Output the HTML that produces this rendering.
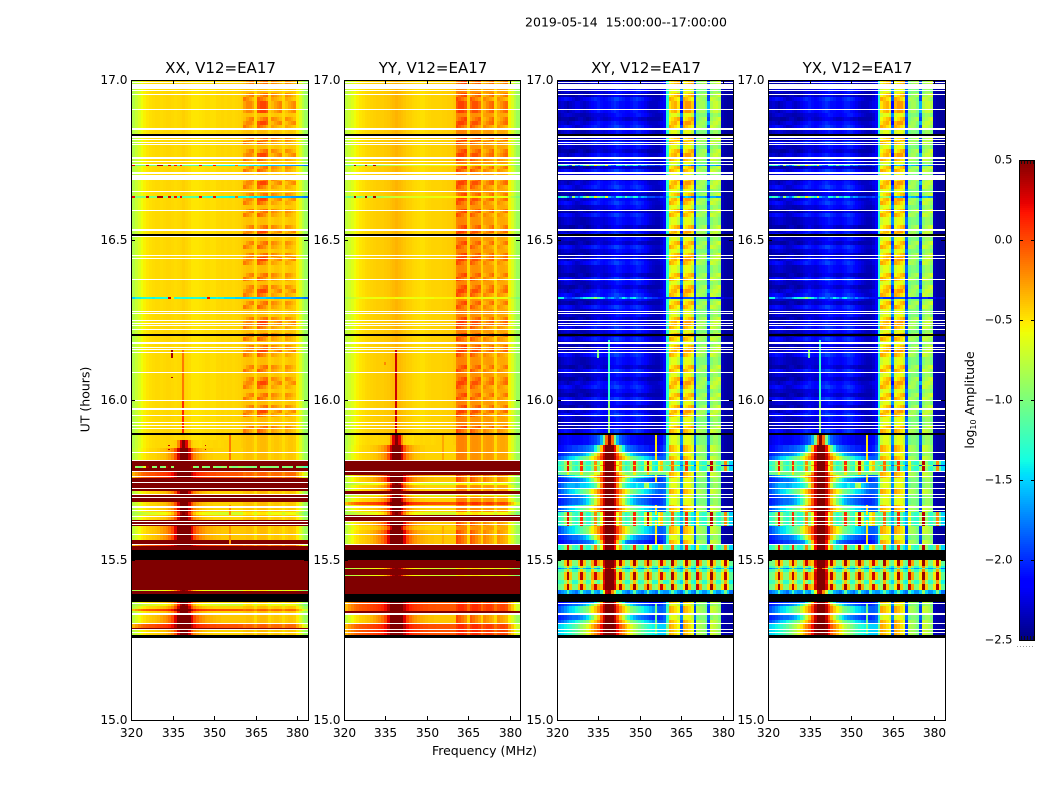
<!DOCTYPE html>
<html lang="en">
<head>
<meta charset="utf-8">
<title>V12=EA17 amplitude spectrogram</title>
<style>
html,body{margin:0;padding:0;background:#fff;}
svg{display:block;font-family:"DejaVu Sans","Liberation Sans",sans-serif;fill:#000;}
</style>
</head>
<body>
<svg id="chart" xmlns="http://www.w3.org/2000/svg" width="1050" height="800" viewBox="0 0 1050 800">
  <text x="626" y="26.5" font-size="12.5" text-anchor="middle" xml:space="preserve">2019-05-14  15:00:00--17:00:00</text>
  <text x="484.5" y="755" font-size="12.5" text-anchor="middle">Frequency (MHz)</text>
  <text x="0" y="0" font-size="12.5" text-anchor="middle" transform="translate(89.5,399.5) rotate(-90)">UT (hours)</text>
  <text x="0" y="0" font-size="12.5" text-anchor="middle" transform="translate(974,400) rotate(-90)">log<tspan font-size="8" dy="2">10</tspan><tspan dy="-2"> Amplitude</tspan></text>
</svg>
<script>
/* ---------- chart data ---------- */
const xTickValues = [320, 335, 350, 365, 380];
const yTickValues = [15, 15.5, 16, 16.5, 17];
const colorbarTicks = [-2.5, -2, -1.5, -1, -0.5, 0, 0.5];
const panelTitles = ["XX, V12=EA17", "YY, V12=EA17", "XY, V12=EA17", "YX, V12=EA17"];

/* log10 amplitude per 1 MHz channel: channels 320-360 ("Left") and 361-383 ("Band") */
const xxLeft = [-.85,-.8,-.72,-.65,-.58,-.54,-.5,-.48,-.47,-.46,-.46,-.47,-.46,-.45,-.45,-.46,-.47,-.46,-.45,-.43,-.45,-.47,-.5,-.5,-.5,-.49,-.48,-.47,-.47,-.48,-.48,-.46,-.46,-.45,-.46,-.45,-.45,-.46,-.45,-.44,-.42];
const yyLeft = [-.8,-.75,-.7,-.64,-.58,-.54,-.5,-.48,-.46,-.45,-.44,-.43,-.42,-.42,-.42,-.41,-.4,-.38,-.36,-.34,-.36,-.38,-.4,-.42,-.43,-.45,-.46,-.47,-.48,-.48,-.46,-.45,-.44,-.44,-.44,-.44,-.43,-.43,-.42,-.42,-.4];
const xxBand0 = [-.4,-.38,-.38,-.4,-.47,-.38,-.36,-.36,-.38,-.46,-.42,-.4,-.4,-.42,-.47,-.42,-.4,-.4,-.42,-.52,-.65,-.78,-.88];
const xxBand1 = [-.15,-.22,-.3,-.38,-.46,-.08,-.15,-.22,-.32,-.44,-.28,-.32,-.36,-.4,-.46,-.3,-.34,-.38,-.42,-.52,-.65,-.78,-.88];
const xxBand2 = [-.38,-.28,-.2,-.16,-.46,-.32,-.22,-.14,-.1,-.44,-.2,-.24,-.3,-.36,-.46,-.22,-.26,-.32,-.38,-.52,-.65,-.78,-.88];
const xxBand3 = [-.28,-.2,-.2,-.28,-.45,-.04,.02,.02,-.06,-.42,-.36,-.28,-.22,-.18,-.45,-.38,-.3,-.24,-.2,-.52,-.65,-.78,-.88];
const yyBand0 = [-.2,-.18,-.18,-.2,-.46,-.25,-.23,-.23,-.25,-.44,-.28,-.26,-.26,-.28,-.46,-.32,-.3,-.3,-.32,-.55,-.66,-.78,-.88];
const yyBand1 = [0,-.06,-.14,-.22,-.44,-.05,-.12,-.2,-.28,-.44,-.2,-.25,-.3,-.35,-.46,-.24,-.28,-.32,-.36,-.55,-.66,-.78,-.88];
const yyBand2 = [-.2,-.12,-.04,.02,-.44,-.28,-.2,-.12,-.06,-.44,-.35,-.28,-.18,-.1,-.44,-.36,-.28,-.2,-.14,-.55,-.66,-.78,-.88];
const yyBand3 = [-.05,.03,.03,-.05,-.42,-.12,-.02,-.02,-.12,-.42,-.3,-.2,-.12,-.08,-.44,-.3,-.22,-.14,-.1,-.55,-.66,-.78,-.88];
const hotBand = [-.12,-.08,-.08,-.12,-.2,-.1,-.06,-.06,-.1,-.2,-.12,-.1,-.1,-.12,-.22,-.12,-.1,-.1,-.12,-.28,-.42,-.55,-.7];
const yyHotBand = [.05,.1,.1,.05,-.1,.05,.1,.1,.05,-.1,0,.05,.05,0,-.12,-.02,.02,.02,-.02,-.25,-.4,-.55,-.7];
const yellowBand = [-.55,-.5,-.5,-.55,-.65,-.55,-.5,-.5,-.55,-.65,-.6,-.58,-.58,-.6,-.68,-.6,-.58,-.58,-.6,-.7,-.8,-.9,-1];

const peakNarrowLeft = [-.85,-.8,-.72,-.65,-.58,-.54,-.5,-.48,-.47,-.46,-.46,-.46,-.46,-.45,-.45,-.44,-.42,-.2,.25,.5,.25,-.2,-.42,-.46,-.47,-.48,-.46,-.46,-.45,-.46,-.45,-.45,-.46,-.45,-.44,-.44,-.44,-.44,-.44,-.44,-.42];
const peakMediumLeft = [-.85,-.78,-.7,-.62,-.56,-.52,-.48,-.46,-.45,-.44,-.42,-.4,-.38,-.34,-.28,-.2,-.02,.3,.5,.5,.5,.3,-.02,-.2,-.28,-.34,-.38,-.4,-.42,-.42,-.44,-.44,-.44,-.44,-.44,-.44,-.44,-.44,-.44,-.44,-.44];
const peakWideLeft = [-.85,-.75,-.65,-.58,-.52,-.48,-.44,-.42,-.4,-.38,-.35,-.3,-.25,-.2,-.12,0,.25,.5,.5,.5,.5,.5,.25,0,-.12,-.2,-.25,-.3,-.32,-.34,-.36,-.38,-.38,-.4,-.4,-.4,-.4,-.4,-.4,-.4,-.4];
const hotLeft = [-.45,-.35,-.25,-.18,-.12,-.08,-.05,-.03,-.02,0,.02,.04,.06,.08,.12,.2,.35,.5,.5,.5,.5,.5,.35,.2,.12,.08,.06,.04,.02,0,0,-.02,-.02,-.02,-.03,-.03,-.03,-.03,-.03,-.05,-.05];
const yellowLeft = [-.9,-.85,-.8,-.78,-.75,-.72,-.7,-.68,-.66,-.64,-.62,-.6,-.58,-.55,-.5,-.4,-.2,.1,.4,.5,.4,.1,-.2,-.4,-.5,-.55,-.58,-.6,-.62,-.64,-.66,-.66,-.68,-.68,-.68,-.7,-.7,-.7,-.7,-.7,-.7];
const saturatedRow = [.5,.5,.5,.5,.5,.5,.5,.5,.5,.5,.5,.5,.5,.5,.5,.5,.5,.5,.5,.5,.5,.5,.5,.5,.5,.5,.5,.5,.5,.5,.5,.5,.5,.5,.5,.5,.5,.5,.5,.5,.5,.5,.5,.5,.5,.5,.5,.5,.5,.5,.5,.5,.5,.5,.5,.5,.5,.5,.5,.5,.5,.5,.5,.5];
const mixedLeft = [-.9,.5,-.9,-1,-.9,-.6,.4,.5,-.9,-1,.5,-1,-.9,.4,.5,-.9,.5,.5,.5,.5,.5,.5,.4,-.9,-1,.5,-.9,-1,-1,.5,-.9,-1,-1,-.9,-.9,.4,-.9,-1,-1,-.9,-.9];
const mixedBand = [-.95,-1,-1,-.95,-1,.5,-.95,-.95,-1,-1,-.95,-.95,-1,.5,-1,-.95,-1,-1,.5,-.95,-1,-1.1,-1.2];
const rfiCyanLeft = [-1.6,-1.5,-1.4,-1.4,-1.35,-1.35,-1.3,-1.35,-1.4,-1.35,-1.35,-1.35,-1.3,-1.35,.3,-.5,-1.35,-1.3,-1.3,-1.35,-1.35,-1.3,-1.35,-1.3,-1.3,-1.35,-1.4,-1.35,.2,-1.4,-1.4,-1.35,-1.4,-1.4,-1.45,-1.45,-1.45,-1.45,-1.5,-1.5,-1.5];
const rfiCyanBand = [-1.5,-1.5,-1.45,-1.5,-1.5,-1.5,-1.5,-1.5,-1.55,-1.55,-1.55,-1.6,-1.6,-1.6,-1.6,-1.6,-1.6,-1.65,-1.65,-1.7,-1.7,-1.75,-1.8];
const rfiGreenLeft = [.4,.2,-1,-1,-1,-1,.3,-1,-1,-1,.4,.4,-1,-1,.3,-1,.2,-1.2,.2,-1.1,-1.1,-1.1,-1.1,-1.1,-1.2,.2,-1.2,-1.2,-1.3,-1.3,.2,-1.3,-1.3,-1.35,-1.35,-1.35,-1.4,-1.4,-.1,-1.4,-1.4];
const rfiGreenBand = [-1.4,-1.2,-1.4,-1.4,-1.5,-1.4,-1.45,-1.45,-1.5,-1.55,-1.55,-1.55,-1.55,-1.55,-1.6,-1.6,-1.6,-1.65,-1.65,-1.7,-1.7,-1.75,-1.8];
const yySoftRfiLeft = [-.9,-.85,-.8,-.75,-.7,-.66,-.62,-.6,-.58,-.6,-.6,-.58,-.58,-.58,-.6,-.58,-.56,-.55,-.55,-.58,-.6,-.6,-.58,-.58,-.58,-.58,-.6,-.58,-.58,-.58,-.58,-.58,-.58,-.55,-.55,-.55,-.55,-.55,-.55,-.55,-.5];
const yyGreenRfiLeft = [.3,-1,-1.05,-1,.4,-1,-1,-.9,.4,-.95,-.95,.4,-.9,-.9,-.85,-.8,-.8,-.75,-.75,-.7,-.7,-.7,-.68,-.68,-.66,-.66,-.66,-.64,-.64,-.64,-.62,-.62,-.62,-.6,-.6,-.6,-.6,-.58,-.58,-.56,-.56];

const crossLeft0 = [-2.42,-2.38,-2.32,-2.28,-2.25,-2.28,-2.32,-2.35,-2.35,-2.38,-2.38,-2.35,-2.32,-2.28,-2.25,-2.25,-2.25,-2.28,-2.25,-2.2,-2.15,-2.1,-2.05,-2.08,-2.12,-2.18,-2.2,-2.15,-2.1,-2.05,-2.05,-2.1,-2.15,-2.22,-2.28,-2.32,-2.35,-2.35,-2.3,-2.15,-1.3];
const crossLeft1 = [-2.3,-2.22,-2.12,-2.08,-2.1,-2.15,-2.25,-2.32,-2.3,-2.25,-2.2,-2.15,-2.1,-2.05,-2,-2.05,-2.1,-2.15,-2.1,-2.05,-2,-1.92,-1.92,-2,-2.05,-2.1,-2.1,-2.05,-2,-1.95,-2,-2.05,-2.12,-2.2,-2.25,-2.3,-2.32,-2.32,-2.25,-2.12,-1.3];
const crossLeft2 = [-2.45,-2.42,-2.38,-2.38,-2.38,-2.42,-2.42,-2.38,-2.32,-2.32,-2.38,-2.42,-2.38,-2.32,-2.28,-2.22,-2.28,-2.32,-2.32,-2.28,-2.22,-2.18,-2.18,-2.22,-2.28,-2.32,-2.32,-2.28,-2.22,-2.22,-2.28,-2.32,-2.32,-2.38,-2.38,-2.38,-2.38,-2.38,-2.32,-2.15,-1.3];
const crossLeft3 = [-2.38,-2.32,-2.28,-2.32,-2.38,-2.32,-2.28,-2.22,-2.22,-2.28,-2.32,-2.28,-2.22,-2.15,-2.1,-2.05,-2.1,-2.15,-2.15,-2.1,-2.05,-2,-2.05,-2.1,-2.1,-2.15,-2.15,-2.1,-2.05,-2.05,-2.1,-2.15,-2.22,-2.28,-2.32,-2.32,-2.32,-2.28,-2.22,-2.12,-1.3];
const crossBand0 = [-.72,-.62,-.62,-.75,-1.7,-.68,-.6,-.6,-.75,-1.8,-1.05,-.98,-.98,-1.05,-1.85,-.98,-.88,-.88,-1,-2.35,-2.4,-2.42,-2.42];
const crossBand1 = [-.3,-.38,-.48,-.58,-1.85,-.3,-.38,-.48,-.6,-1.95,-.8,-.85,-.9,-1,-1.95,-.7,-.75,-.82,-.9,-2.35,-2.4,-2.42,-2.42];
const crossBand2 = [-.58,-.48,-.38,-.3,-1.95,-.6,-.48,-.38,-.3,-1.95,-1,-.9,-.85,-.8,-1.95,-.9,-.82,-.75,-.68,-2.35,-2.4,-2.42,-2.42];
const crossBand3 = [-.5,-.38,-.32,-.5,-2.1,-.35,-.25,-.25,-.42,-2,-.92,-.85,-.85,-.98,-1.6,-.82,-.72,-.7,-.8,-2.35,-2.4,-2.42,-2.42];
const crossRfiLeft4 = [-1.2,-1.4,-1.4,-1.9,-2,-2,-1.9,-1.8,-1.8,-1.6,-1.4,-1.3,-1.3,-1.2,-.9,-1.2,-1.4,-1.6,-1.9,-1.7,-1.6,-1.8,-1.9,-1.7,-1.4,-1.6,-1.8,-1.5,-1.4,-1.7,-1.8,-1.9,-1.7,-1.9,-1.9,-2,-2,-2.1,-2.1,-2.1,-2];
const crossRfiBand4 = [-1.9,-2,-2,-2,-2.1,-1.9,-1.9,-1.9,-1.9,-2.1,-1.9,-2,-2,-2,-2.1,-2,-2,-2.1,-2.1,-2.2,-2.3,-2.3,-2.3];
const crossRfiLeft5 = [-1.6,-1.4,-1.2,-1.3,-1.6,-1.9,-.9,-1.6,-1.8,-1.5,-1.1,-.8,-1.2,-1.3,-.5,-1,-1.2,-1.4,-.6,-1.6,-1.8,-1.9,-1.3,-1.4,-1.6,-1.1,-1.5,-1.6,-1.3,-1.4,-1.8,-1.6,-1.7,-1.9,-1.9,-1.9,-2,-2,-1.9,-2,-1.5];
const crossRfiBand5 = [-.9,-.8,-.9,-1.2,-2.1,-1.6,-1.5,-1.6,-1.8,-2.1,-1.5,-1.6,-1.6,-1.7,-2.1,-1.6,-1.6,-1.7,-1.7,-2.3,-2.4,-2.4,-2.4];
const crossPeak1 = [-2.3,-2.25,-2.2,-2.15,-2.1,-2.15,-2.2,-2.2,-2.2,-2.15,-2.1,-2.1,-2.05,-2,-1.95,-1.85,-1.6,-1,-.1,.5,-.1,-1,-1.6,-1.85,-1.95,-2,-2.05,-2.1,-2.1,-2.15,-2.2,-2.2,-2.25,-2.25,-2.25,-2.25,-2.25,-2.2,-2.15,-2,-1.3];
const crossPeak2 = [-2.2,-2.15,-2.1,-2.05,-2,-2,-1.95,-1.95,-1.9,-1.9,-1.85,-1.8,-1.75,-1.7,-1.4,-1,-.4,.2,.5,.5,.5,.2,-.4,-1,-1.4,-1.7,-1.8,-1.85,-1.9,-1.95,-2,-2,-2.05,-2.05,-2.1,-2.1,-2.1,-2.1,-2.05,-1.9,-1.3];
const crossPeak3 = [-2.1,-2.05,-2,-1.95,-1.9,-1.85,-1.8,-1.8,-1.75,-1.7,-1.6,-1.45,-1.25,-1,-.7,-.4,-.05,.3,.5,.5,.5,.3,-.05,-.4,-.7,-1,-1.25,-1.45,-1.6,-1.7,-1.75,-1.8,-1.85,-1.9,-1.95,-2,-2,-2,-1.95,-1.85,-1.3];
const crossPeak4 = [-2,-1.9,-1.8,-1.7,-1.6,-1.5,-1.45,-1.35,-1.25,-1.15,-1.05,-.95,-.75,-.55,-.4,-.2,.05,.35,.5,.5,.5,.35,.05,-.2,-.4,-.55,-.75,-.95,-1.05,-1.15,-1.25,-1.35,-1.45,-1.5,-1.6,-1.7,-1.8,-1.85,-1.85,-1.8,-1.2];
const crossPeak5 = [-1.6,-1.5,-1.45,-1.4,-1.35,-1.3,-1.2,-1.1,-1,-.9,-.8,-.65,-.5,-.35,-.2,-.05,.2,.45,.5,.5,.5,.45,.2,-.05,-.2,-.35,-.5,-.65,-.8,-.9,-1,-1.1,-1.2,-1.3,-1.35,-1.4,-1.45,-1.5,-1.5,-1.5,-1];
const crossGreenLeft = [-1.2,-1.1,-1.05,-1,-.6,-1,-1,-1,-1,-.5,-1,-1,-.95,-.9,-.6,-.7,-.2,.3,.5,.5,.5,.3,-.2,-.5,-.8,-.95,-1,-.95,-.5,-.95,-1,-1,-.95,-.4,-.95,-1,-1,-.9,-1,-1,-.8];
const crossBlueLeft = [-2,-1.9,-1.8,-1.7,-1.6,-1.6,-1.6,-1.65,-1.6,-1.5,-1.5,-1.45,-1.4,-1.3,-1.1,-.7,-.2,.3,.5,.5,.5,.3,-.2,-.7,-1.1,-1.3,-1.4,-1.45,-1.5,-1.4,-1.5,-1.5,-.9,-.8,-1.5,-1.6,-1.7,-1.8,-1.8,-1.8,-1.3];
const crossChecker1 = [-1.1,-1.05,-1,-.4,.4,-.4,-1,-1,-.4,.35,-.4,-1,-.9,-.3,.3,-.3,-.4,.3,.5,.5,.5,.3,-.4,.35,-.4,-1,-1,-.4,.4,-.4,-1,-1,-.3,.4,-.3,-1,-.9,-.4,.3,-.4,-1,-.9,.4,-.4,-1,-1.1,-.5,.4,-.4,-1,-1.1,.3,-.3,-1,-1,-.5,.45,-.4,-1,-1,-.5,.35,-.5,-1.1];
const crossChecker2 = [-1.3,-1.25,-1.2,-.9,-.4,-.9,-1.3,-1.3,-.9,-.45,-.9,-1.25,-1.2,-.45,-.9,-1.2,-.8,.2,.5,.5,.5,.2,-.8,-.45,-1,-1.3,-1.3,-.9,-.4,-.9,-1.3,-1.25,-.85,-.4,-.85,-1.3,-1.3,-.45,-.9,-1.3,-1.3,-1,-.35,-1,-1.3,-1.5,-.9,-.3,-.9,-1.3,-1.4,-.4,-1,-1.3,-1.3,-.9,-.2,-.9,-1.3,-1.3,-.9,-.3,-.9,-1.4];
const crossChecker3 = [-1.9,-1.8,-1.7,-1.6,-1.2,-1.6,-1.7,-1.8,-1.6,-1.2,-1.6,-1.7,-1.7,-1.2,-1.6,-1.7,-1.3,-.6,.3,.4,-.2,-.7,-1.3,-1.2,-1.6,-1.7,-1.8,-1.6,-1.1,-1.6,-1.7,-1.8,-1.6,-1.1,-1.6,-1.7,-1.8,-1.2,-1.6,-1.7,-1.7,-1.5,-1.1,-1.5,-1.7,-1.8,-1.5,-1.1,-1.5,-1.7,-1.8,-1.2,-1.5,-1.7,-1.7,-1.5,-.9,-1.5,-1.7,-1.7,-1.5,-1,-1.5,-1.8];
const crossBusy = [-1.5,-1.3,-1.2,-.9,.2,-.9,-1.2,-1.3,-1.1,.1,-1.1,-1.3,-1.3,-1,-.2,-1,-.6,.2,.5,.5,.5,.2,-.6,-.3,-1.1,-1.3,-1.2,-1,.1,-1,-1.2,-1.3,-.7,.3,-.7,-1.3,-1.4,-.6,-.4,-1.1,-1.2,-1.1,-.1,-1.1,-1.3,-1.6,-1.1,.1,-1.1,-1.4,-1.6,-.6,-1.2,-1.3,-1.3,-.9,.35,-.9,-1.2,-1.3,-1.1,-.2,-1.1,-1.5];

/* row kinds: one spectrum per kind */
const xxSpectra = [
  [...xxLeft, ...xxBand0], [...xxLeft, ...xxBand1], [...xxLeft, ...xxBand2], [...xxLeft, ...xxBand3],
  [...rfiCyanLeft, ...rfiCyanBand], [...rfiGreenLeft, ...rfiGreenBand],
  [...peakNarrowLeft, ...xxBand0], [...peakMediumLeft, ...xxBand0], [...peakWideLeft, ...xxBand0],
  saturatedRow, [...hotLeft, ...hotBand], [...yellowLeft, ...yellowBand], [...mixedLeft, ...mixedBand]
];
const yySpectra = [
  [...yyLeft, ...yyBand0], [...yyLeft, ...yyBand1], [...yyLeft, ...yyBand2], [...yyLeft, ...yyBand3],
  [...yySoftRfiLeft, ...yellowBand], [...yyGreenRfiLeft, ...yellowBand],
  [...peakNarrowLeft, ...yyBand0], [...peakMediumLeft, ...yyBand0], [...peakWideLeft, ...yyBand1],
  saturatedRow, [...hotLeft, ...yyHotBand], [...yellowLeft, ...yellowBand]
];
const crossSpectra = [
  [...crossLeft0, ...crossBand0], [...crossLeft1, ...crossBand1], [...crossLeft2, ...crossBand2], [...crossLeft3, ...crossBand3],
  [...crossRfiLeft4, ...crossRfiBand4], [...crossRfiLeft5, ...crossRfiBand5],
  [...crossPeak1, ...crossBand0], [...crossPeak2, ...crossBand1], [...crossPeak3, ...crossBand0], [...crossPeak4, ...crossBand1], [...crossPeak5, ...crossBand1],
  crossChecker1, crossChecker2, crossChecker3, crossBusy,
  [...crossGreenLeft, ...crossBand1], [...crossBlueLeft, ...crossBand0]
];

/* time samples are integrations since 15:00 UT; each row run starts at one of these */
const integrationSeconds = 11.25;
const runStart = [
  85,90,92,96,100,104,106,109,111,114,116,
  126,129,130,132,136,140,144,145,148,151,152,154,157,
  170,174,176,180,184,186,190,194,198,200,203,205,208,210,212,215,218,221,224,226,229,232,235,237,240,242,245,249,252,254,255,259,260,264,268,272,275,280,
  287,291,295,299,303,307,311,315,319,323,327,331,335,339,343,347,351,355,359,363,367,371,375,379,383,387,391,395,399,403,407,411,415,419,
  421,423,427,431,435,439,443,447,451,455,459,463,467,471,475,479,483,487,491,495,499,503,507,511,515,519,
  522,524,527,531,535,539,543,547,551,554,556,559,563,567,571,575,579,583,587,591,595,599,603,607,611,615,619,623,627,631,635,639
];
const quietKinds = [
  1,2,0,0,1,3,2,0,1,2,0,1,3,2,0,1,2,0,0,1,3,2,0,1,2,0,1,3,2,0,0,1,2,0,
  4,
  1,3,2,0,1,2,0,0,1,3,2,0,1,2,0,1,3,2,0,0,1,2,0,1,3,
  5,
  2,0,1,3,2,0,1,2,
  5,
  0,1,3,2,0,1,2,0,0,1,3,2,0,3,3,3,1,2,0,1,2,0
];
const xxKinds = [
  7,9,10,8,8,8,7,10,7,11,7,
  9,11,9,9,9,9,9,9,9,9,9,9,9,
  9,10,9,8,8,8,8,9,9,7,7,11,7,7,7,7,9,9,9,7,9,9,9,9,9,10,10,9,12,9,9,9,7,7,7,6,6,0,
  ...quietKinds
];
const yyKinds = [
  10,10,10,8,8,8,9,10,10,10,10,
  9,9,9,9,9,9,11,9,9,11,9,9,9,
  9,9,8,8,8,8,7,8,9,9,9,11,7,7,7,10,7,7,11,9,7,7,11,8,8,8,9,9,9,9,9,10,7,7,7,7,6,6,
  ...quietKinds
];
const crossKinds = [
  10,10,10,9,8,8,9,9,9,8,7,
  13,13,11,11,12,11,11,11,12,13,12,11,11,
  14,14,7,8,8,9,9,14,14,14,14,14,9,9,9,8,8,8,8,9,9,16,16,8,8,9,15,14,14,15,14,9,9,8,7,7,6,6,
  ...quietKinds
];

/* isolated features: first integration, end integration, channel, log10 amplitude */
const xxFeatures = [[287,320,19,.1],[320,370,19,-.15],[362,370,15,.4],[342,343,15,.4],[260,287,36,-.15],[205,215,36,-.2],[176,194,36,-.25],[274,275,14,.3],[274,275,27,.3],[270,271,14,.3],[270,271,27,.3]];
const yyFeatures = [[287,370,19,.3],[355,358,15,-.2],[260,287,36,-.3],[176,194,36,-.32]];
const crossFeatures = [[320,380,19,-1.3],[287,320,19,-.95],[362,370,15,-1],[260,287,36,-.5],[238,245,36,-.5],[205,215,36,-.5],[176,200,36,-.5],[86,116,36,-1]];

/* rows flagged as no data (white) and zero-amplitude rows (black) */
const flaggedRows = [[87,88],[90,91],[96,97],[105,107],[116,117],[175,176],[185,186],[195,196],[198,199],[203,204],[209,210],[212,214],[222,223],[225,226],[231,232],[237,238],[243,244],[248,249],[259,260],[267,268],[291,292],[294,295],[297,298],[304,305],[310,312],[319,320],[347,348],[367,368],[370,371],[372,373],[376,378],[390,391],[394,395],[396,397],[399,400],[406,407],[408,409],[440,441],[461,462],[464,465],[483,484],[489,491],[509,510],[528,529],[540,545],[546,548],[555,556],[558,559],[561,563],[575,576],[577,578],[580,581],[582,584],[590,592],[610,611],[625,626],[629,630],[631,636],[637,638]];
const blackRows = [[82,85],[118,126],[160,170],[285,287],[384,386],[484,486],[584,586]];

/* ---------- layout and scales ---------- */
const NS = 'http://www.w3.org/2000/svg';
const svg = document.getElementById('chart');
const firstChannelMHz = 320, channelMHz = 1, lastMHz = 383.8;
const plotTop = 80, plotBottom = 720, utMin = 15, utMax = 17;
const cmapMin = -2.5, cmapMax = 0.5;
const cbar = {left: 1019, right: 1035, top: 160, bottom: 640};
const panels = [
  {key: 'xx', left: 131, right: 308, spectra: xxSpectra, kinds: xxKinds, features: xxFeatures},
  {key: 'yy', left: 344, right: 520, spectra: yySpectra, kinds: yyKinds, features: yyFeatures},
  {key: 'xy', left: 557, right: 733, spectra: crossSpectra, kinds: crossKinds, features: crossFeatures},
  {key: 'yx', left: 768, right: 945, spectra: crossSpectra, kinds: crossKinds, features: crossFeatures}
];

function xScale(panel, mhz) {
  return panel.left + (mhz - firstChannelMHz) / (lastMHz - firstChannelMHz) * (panel.right - panel.left);
}
function yScale(ut) {
  return plotBottom - (ut - utMin) / (utMax - utMin) * (plotBottom - plotTop);
}
function utOfIntegration(n) {
  return utMin + n * integrationSeconds / 3600;
}
function rowY(n) {
  return Math.round(yScale(utOfIntegration(Math.min(n, 640))));
}
function channelEdges(panel, ch) {
  const mhz = firstChannelMHz + ch * channelMHz;
  const a = Math.round(xScale(panel, Math.max(mhz - channelMHz / 2, firstChannelMHz)));
  const b = ch >= 63 ? panel.right : Math.round(xScale(panel, mhz + channelMHz / 2));
  return [a, b];
}
function ramp(t, pts) {
  for (let i = 1; i < pts.length; i++) {
    if (t <= pts[i][0]) {
      const p = pts[i - 1], q = pts[i];
      return p[1] + (t - p[0]) / (q[0] - p[0]) * (q[1] - p[1]);
    }
  }
  return pts[pts.length - 1][1];
}
function jet(t) {
  t = Math.max(0, Math.min(1, t));
  const r = ramp(t, [[0, 0], [.35, 0], [.66, 1], [.89, 1], [1, .5]]);
  const g = ramp(t, [[0, 0], [.125, 0], [.375, 1], [.64, 1], [.91, 0], [1, 0]]);
  const b = ramp(t, [[0, .5], [.11, 1], [.34, 1], [.65, 0], [1, 0]]);
  return 'rgb(' + Math.round(r * 255) + ',' + Math.round(g * 255) + ',' + Math.round(b * 255) + ')';
}
function colorOf(v) {
  return jet((v - cmapMin) / (cmapMax - cmapMin));
}
function make(tag, attrs, parent) {
  const el = document.createElementNS(NS, tag);
  for (const k in attrs) el.setAttribute(k, attrs[k]);
  parent.appendChild(el);
  return el;
}
function fmt(v) {
  return v.toFixed(1).replace('-', '\u2212');
}

/* ---------- panels ---------- */
panels.forEach(function (panel, pi) {
  const g = make('g', {'shape-rendering': 'crispEdges'}, svg);
  
  

  const heat = make('g', {}, g);
  
  

  runStart.forEach(function (start, r) {
    const end = r + 1 < runStart.length ? runStart[r + 1] : 640;
    const yTop = rowY(end), yBot = rowY(start);
    const spectrum = panel.spectra[panel.kinds[r]];
    let ch = 0;
    while (ch < spectrum.length) {
      let stop = ch;
      while (stop + 1 < spectrum.length && spectrum[stop + 1] === spectrum[ch]) stop++;
      const x0 = channelEdges(panel, ch)[0], x1 = channelEdges(panel, stop)[1];
      const cell = make('rect', {x: x0, y: yTop, width: x1 - x0, height: yBot - yTop, fill: colorOf(spectrum[ch])}, heat);
      
      
      ch = stop + 1;
    }
  });

  panel.features.forEach(function (f) {
    const e = channelEdges(panel, f[2]);
    const mark = make('rect', {x: e[0], y: rowY(f[1]), width: Math.max(1, e[1] - e[0] - 1), height: rowY(f[0]) - rowY(f[1]), fill: colorOf(f[3])}, heat);
    
    
  });

  flaggedRows.forEach(function (b) {
    const band = make('rect', {x: panel.left, y: rowY(b[1]), width: panel.right - panel.left, height: rowY(b[0]) - rowY(b[1]), fill: '#fff'}, heat);
    
    
  });
  blackRows.forEach(function (b) {
    const band = make('rect', {x: panel.left, y: rowY(b[1]), width: panel.right - panel.left, height: rowY(b[0]) - rowY(b[1]), fill: '#000'}, heat);
    
    
  });

  xTickValues.forEach(function (v) {
    const x = Math.round(xScale(panel, v)) + .5;
    const t1 = make('line', {x1: x, x2: x, y1: plotBottom, y2: plotBottom - 4, stroke: '#000'}, g);
    
    
    const t2 = make('line', {x1: x, x2: x, y1: plotTop, y2: plotTop + 4, stroke: '#000'}, g);
    
    
    const lab = make('text', {x: x, y: 737, 'font-size': 12.2, 'text-anchor': 'middle'}, svg);
    
    
    lab.textContent = String(v);
  });
  yTickValues.forEach(function (v) {
    const y = Math.round(yScale(v));
    const t1 = make('line', {x1: panel.left, x2: panel.left + 4, y1: y + .5, y2: y + .5, stroke: '#000'}, g);
    
    
    const t2 = make('line', {x1: panel.right, x2: panel.right - 4, y1: y + .5, y2: y + .5, stroke: '#000'}, g);
    
    
    const lab = make('text', {x: panel.left - 3.5, y: y + 4, 'font-size': 12.2, 'text-anchor': 'end'}, svg);
    
    
    lab.textContent = v.toFixed(1);
  });

  const frame = make('rect', {x: panel.left + .5, y: plotTop + .5, width: panel.right - panel.left, height: plotBottom - plotTop, fill: 'none', stroke: '#000'}, g);
  
  

  const title = make('text', {x: (panel.left + panel.right) / 2 + 1, y: 73, 'font-size': 15, 'text-anchor': 'middle'}, svg);
  
  
  title.textContent = panelTitles[pi];
});

/* ---------- colorbar ---------- */
const cbarGroup = make('g', {'shape-rendering': 'crispEdges'}, svg);


function cbarY(v) {
  return cbar.bottom - (v - cmapMin) / (cmapMax - cmapMin) * (cbar.bottom - cbar.top);
}
for (let py = cbar.top; py < cbar.bottom; py += 2) {
  const v = cmapMax - (py + 1 - cbar.top) / (cbar.bottom - cbar.top) * (cmapMax - cmapMin);
  const swatch = make('rect', {x: cbar.left, y: py, width: cbar.right - cbar.left, height: 2, fill: colorOf(v)}, cbarGroup);
  
  
}
colorbarTicks.forEach(function (v) {
  const y = Math.round(cbarY(v));
  const t1 = make('line', {x1: cbar.left, x2: cbar.left + 4, y1: y + .5, y2: y + .5, stroke: '#000'}, cbarGroup);
  
  
  const t2 = make('line', {x1: cbar.right, x2: cbar.right - 4, y1: y + .5, y2: y + .5, stroke: '#000'}, cbarGroup);
  
  
  const lab = make('text', {x: cbar.left - 6.5, y: y + 3.5, 'font-size': 11.5, 'text-anchor': 'end'}, svg);
  
  
  lab.textContent = fmt(v);
});
const stubTop = make('line', {x1: cbar.left + 2, x2: cbar.right - 1, y1: cbar.top + 2, y2: cbar.top + 2, stroke: '#111', 'stroke-width': 4, 'stroke-dasharray': '1 2'}, cbarGroup);


const stubBottom = make('line', {x1: cbar.left + 2, x2: cbar.right - 1, y1: cbar.bottom - 2, y2: cbar.bottom - 2, stroke: '#111', 'stroke-width': 4, 'stroke-dasharray': '1 2'}, cbarGroup);


const cbarFrame = make('rect', {x: cbar.left + .5, y: cbar.top + .5, width: cbar.right - cbar.left - 1, height: cbar.bottom - cbar.top, fill: 'none', stroke: '#000'}, cbarGroup);


const dots = make('line', {x1: cbar.left - 2, x2: cbar.right, y1: 646.5, y2: 646.5, stroke: '#999', 'stroke-dasharray': '1 2'}, cbarGroup);


</script>
</body>
</html>
